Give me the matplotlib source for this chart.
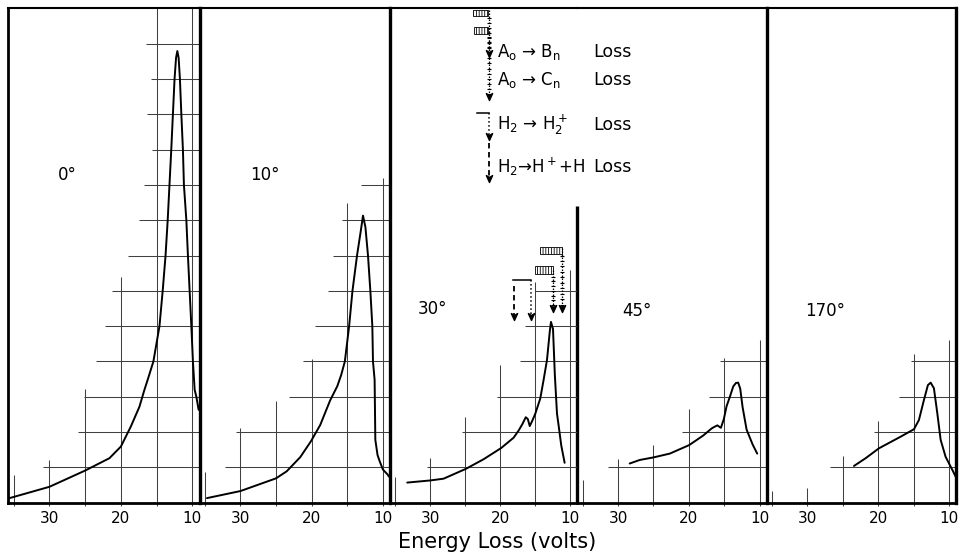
import numpy as np
import matplotlib
matplotlib.use('Agg')
import matplotlib.pyplot as plt
from matplotlib.patches import Rectangle
from matplotlib.path import Path

plt.rcParams['font.family'] = ['DejaVu Sans']
plt.rcParams['mathtext.fontset'] = 'dejavusans'
plt.rcParams['mathtext.default'] = 'regular'
plt.rcParams['hatch.linewidth'] = 0.6

W, H = 959, 554

# ---- data: energy loss (volts) vs intensity (grid divisions) ----
angles = ['0°', '10°', '30°', '45°', '170°']

loss_0 = [35.75, 30.0, 25.0, 21.6, 20.0, 18.6, 17.4, 16.7, 16.25, 15.45, 14.6, 14.15, 13.75,
          13.45, 13.2, 12.95, 12.72, 12.49, 12.28, 12.1, 11.92, 11.74, 11.54, 11.32, 11.18,
          10.84, 10.62, 10.38, 10.14, 9.92, 9.68, 9.44, 9.12]
int_0 = [0.12, 0.45, 0.91, 1.26, 1.59, 2.16, 2.72, 3.2, 3.48, 4.0, 5.0, 6.0, 7.0,
         8.0, 9.0, 10.0, 11.0, 12.0, 12.6, 12.79, 12.6, 12.0, 11.0, 10.0, 9.0,
         8.0, 7.0, 6.0, 5.0, 4.0, 3.2, 3.0, 2.63]

loss_10 = [34.7, 30.0, 25.0, 23.5, 21.6, 20.1, 18.8, 17.4, 16.4, 15.85, 15.34, 14.74, 14.27,
           13.63, 13.1, 12.79, 12.45, 12.09, 11.76, 11.48, 11.39, 11.16, 11.06, 10.75, 10.46,
           10.0, 9.3, 9.16]
int_10 = [0.13, 0.33, 0.69, 0.89, 1.29, 1.74, 2.2, 2.9, 3.3, 3.62, 4.0, 5.0, 6.0,
          7.0, 7.7, 8.13, 7.8, 7.0, 6.0, 5.0, 4.0, 3.48, 1.78, 1.35, 1.18,
          0.94, 0.79, 0.74]

loss_30 = [33.29, 30.0, 28.1, 24.9, 22.39, 19.86, 18.1, 17.39, 16.86, 16.36, 16.07, 15.79,
           15.43, 15.0, 14.29, 13.81, 13.33, 12.93, 12.76, 12.47, 12.21, 11.9, 11.67, 11.29, 10.81]
int_30 = [0.57, 0.63, 0.68, 0.96, 1.23, 1.55, 1.84, 2.04, 2.22, 2.42, 2.37, 2.17,
          2.32, 2.52, 2.95, 3.48, 4.04, 4.85, 5.12, 4.92, 3.63, 2.52, 2.19, 1.62, 1.13]

loss_45 = [28.35, 26.93, 25.05, 22.69, 19.96, 17.98, 16.79, 16.46, 15.97, 15.47, 15.05, 14.67,
           14.2, 13.73, 13.35, 13.03, 12.74, 12.4, 11.84, 10.99, 10.34]
int_45 = [1.11, 1.21, 1.28, 1.39, 1.63, 1.9, 2.1, 2.14, 2.19, 2.12, 2.37, 2.73,
          3.0, 3.29, 3.39, 3.4, 3.23, 2.7, 2.07, 1.65, 1.39]

loss_170 = [23.42, 21.77, 19.89, 16.82, 14.94, 14.24, 13.53, 12.97, 12.58, 12.12, 11.64,
            11.17, 10.47, 9.52, 9.05]
int_170 = [1.04, 1.26, 1.54, 1.87, 2.08, 2.34, 2.91, 3.33, 3.4, 3.24, 2.53,
           1.78, 1.3, 0.93, 0.74]

# staircase grid: vertical lines at these volts, with their tops (divisions)
grid_volts = [35, 30, 25, 20, 15, 10]
vtop_0 = [0.79, 1.21, 3.22, 6.39, 14, 14]
vtop_10 = [0.88, 2.11, 2.89, 4.06, 8.49, 9.19]
vtop_30 = [0.72, 1.26, 2.42, 3.91, 6.25, 6.6]
vtop_45 = [0.64, 1.24, 1.64, 2.65, 4.11, 4.61]
vtop_170 = [0.34, 0.41, 1.32, 2.32, 4.21, 4.61]
# horizontal lines at levels 1, 2, ... starting at these volts (running to 9 V)
hleft_0 = [30.96, 25.96, 25.12, 23.48, 22.18, 21.2, 19.04, 17.5, 16.7, 15.62, 16.28, 15.76, 16.42]
hleft_10 = [32.22, 30.68, 23.25, 21.24, 19.53, 17.67, 16.97, 15.8, 13.01]
hleft_30 = [30.5, 25.4, 20.5, 17.2, 16.4, 15.0]
hleft_45 = [31.41, 21.03, 17.13, 15.62]
hleft_170 = [26.81, 20.59, 17.06, 15.4]

# loss thresholds marked on the 30 deg panel
mark_labels = [r'A$_o$ → B$_n$', r'A$_o$ → C$_n$', r'H$_2$ → H$_2^+$', r'H$_2$→H$^+$+H']
mark_loss = [11.2, 12.4, 15.6, 18.1]

tick_volts = [30, 20, 10]
tick_text = ['30', '20', '10']

curves = [(loss_0, int_0), (loss_10, int_10), (loss_30, int_30), (loss_45, int_45), (loss_170, int_170)]
vtops = [vtop_0, vtop_10, vtop_30, vtop_45, vtop_170]
hlefts = [hleft_0, hleft_10, hleft_30, hleft_45, hleft_170]

# ---- layout (pixels) ----
edges = [(8.3, 199.5), (199.5, 390), (390, 577.3), (577.3, 766.7), (766.7, 956)]
base_y, top_y = 502.7, 8.3
xl = (35.75, 9.0)
label_pos = [(67, 175), (265, 175), (432, 309), (637, 311), (825, 311)]
gc = '#404040'

head = Path([(0, 0), (-0.45, 1.0), (0, 0.72), (0.45, 1.0), (0, 0)],
            [Path.MOVETO, Path.LINETO, Path.LINETO, Path.LINETO, Path.CLOSEPOLY])

fig = plt.figure(figsize=(W / 100, H / 100), dpi=100)
fig.patch.set_facecolor('white')

axes = []
for i, (x0, x1) in enumerate(edges):
    ax = fig.add_axes([x0 / W, (H - base_y) / H, (x1 - x0) / W, (base_y - top_y) / H])
    ax.set_xlim(*xl)
    ax.set_ylim(0, 14)
    ax.patch.set_alpha(0)
    for s in ['left', 'right']:
        ax.spines[s].set_visible(False)
    ax.spines['top'].set_linewidth(1.5)
    ax.spines['bottom'].set_linewidth(2.0)
    if i == 0:
        ax.spines['left'].set_visible(True)
        ax.spines['left'].set_linewidth(2.0)
    if i != 2:
        ax.spines['right'].set_visible(True)
        ax.spines['right'].set_linewidth(2.4)
    else:
        ax.plot([xl[1], xl[1]], [0, 8.39], color='k', lw=2.4, clip_on=False, solid_capstyle='butt')

    ax.vlines(grid_volts, -0.08, vtops[i], color=gc, lw=0.75, clip_on=False)
    levels = np.arange(1, len(hlefts[i]) + 1)
    ax.hlines(levels, hlefts[i], xl[1], color=gc, lw=0.75)

    lx, ly = curves[i]
    ax.plot(lx, ly, color='k', lw=1.4, solid_joinstyle='round', solid_capstyle='round')

    ax.set_yticks([])
    ax.set_xticks(tick_volts)
    ax.set_xticklabels(tick_text)
    ax.tick_params(axis='x', length=0, pad=6, labelsize=11)
    axes.append(ax)

# threshold arrows in the 30 deg panel
ax3 = axes[2]
b, c, hp, hh = mark_loss
ax3.add_patch(Rectangle((b, 7.03), 3.1, 0.22, facecolor='white', edgecolor='k', lw=0.6, hatch='||||||'))
ax3.plot([b, b], [7.2, 5.45], color='k', lw=0.9, ls=(0, (1.2, 1.2)))
ax3.plot([b] * 10, np.linspace(7.0, 5.6, 10), ls='none', marker='_', ms=3, mew=0.8, color='k')
ax3.plot([b], [5.41], marker=head, ms=10, color='k', ls='none')

ax3.add_patch(Rectangle((c, 6.48), 2.6, 0.23, facecolor='white', edgecolor='k', lw=0.6, hatch='||||||'))
ax3.plot([c, c], [6.6, 5.45], color='k', lw=0.9, ls=(0, (1.2, 1.2)))
ax3.plot([c] * 7, np.linspace(6.4, 5.6, 7), ls='none', marker='_', ms=3, mew=0.8, color='k')
ax3.plot([c], [5.41], marker=head, ms=10, color='k', ls='none')

ax3.plot([hp, hp + 2.6], [6.32, 6.32], color='k', lw=1.1)
ax3.plot([hp, hp], [6.32, 5.22], color='k', lw=1.1, ls=':')
ax3.plot([hp], [5.18], marker=head, ms=10, color='k', ls='none')
ax3.plot([hh, hh], [6.14, 5.22], color='k', lw=1.3, ls=(0, (3, 2)))
ax3.plot([hh], [5.18], marker=head, ms=10, color='k', ls='none')

# overlay in pixel units for labels and the key
ov = fig.add_axes([0, 0, 1, 1])
ov.set_xlim(0, W)
ov.set_ylim(H, 0)
ov.axis('off')
ov.patch.set_alpha(0)

for (px, py), lab in zip(label_pos, angles):
    ov.text(px, py, lab, ha='center', va='center', fontsize=12)

ov.text(497, 542, 'Energy Loss (volts)', ha='center', va='center', fontsize=15)

# key
key_y = [52, 80, 125, 167]
ax_x = 488.5
ov.add_patch(Rectangle((473, 9.5), 15, 6.5, facecolor='white', edgecolor='k', lw=0.6, hatch='||||||'))
ov.plot([ax_x, ax_x], [10, 55], color='k', lw=0.9, ls=(0, (1.2, 1.2)))
ov.plot([ax_x] * 8, np.linspace(18, 52, 8), ls='none', marker='_', ms=3, mew=0.8, color='k')
ov.plot([ax_x], [57], marker=head, ms=10, color='k', ls='none')

ov.add_patch(Rectangle((474, 27), 14, 7, facecolor='white', edgecolor='k', lw=0.6, hatch='||||||'))
ov.plot([ax_x, ax_x], [28, 98], color='k', lw=0.9, ls=(0, (1.2, 1.2)))
ov.plot([ax_x] * 12, np.linspace(38, 94, 12), ls='none', marker='_', ms=3, mew=0.8, color='k')
ov.plot([ax_x], [100], marker=head, ms=10, color='k', ls='none')

ov.plot([477, ax_x], [113, 113], color='k', lw=1.1)
ov.plot([ax_x, ax_x], [113, 138], color='k', lw=1.1, ls=':')
ov.plot([ax_x], [140], marker=head, ms=10, color='k', ls='none')

ov.plot([ax_x, ax_x], [143, 180], color='k', lw=1.3, ls=(0, (3, 2)))
ov.plot([ax_x], [182], marker=head, ms=10, color='k', ls='none')

for ky, lab in zip(key_y, mark_labels):
    ov.text(497, ky, lab, ha='left', va='center', fontsize=12)
    ov.text(593, ky, 'Loss', ha='left', va='center', fontsize=12.5)

fig.savefig('out.png', dpi=100, facecolor='white')
